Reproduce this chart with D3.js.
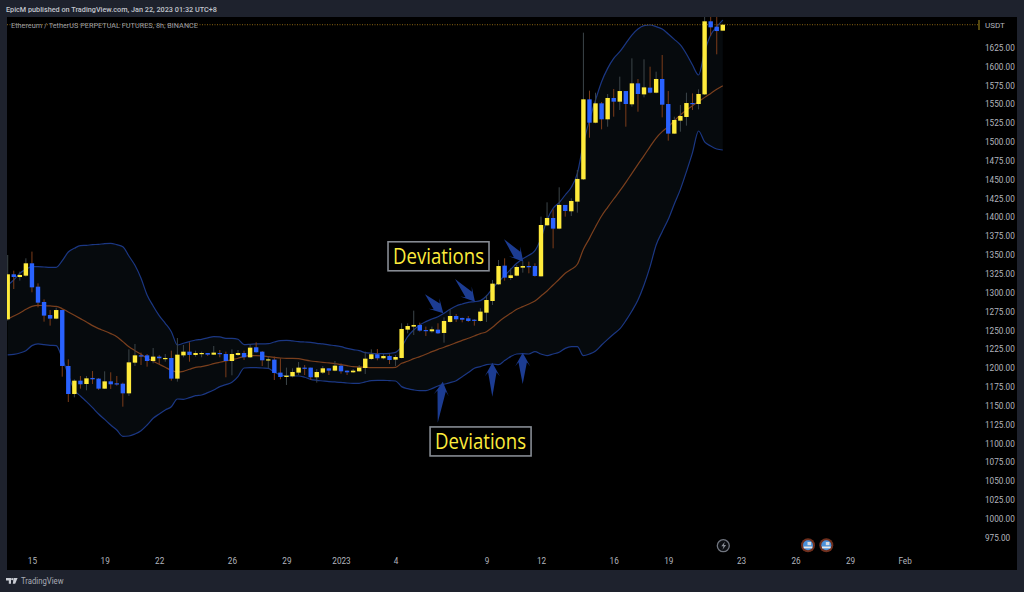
<!DOCTYPE html>
<html><head><meta charset="utf-8">
<script src="https://cdn.jsdelivr.net/npm/d3@7"></script>
<style>html,body{margin:0;padding:0;background:#1e222d;overflow:hidden}svg{display:block}text{font-family:Roboto,"Open Sans",sans-serif}</style>
</head><body><svg id="c" width="1024" height="592"></svg>
<script>
const openP=[1264.7,1324.4,1320.8,1322.6,1339,1308,1287.7,1270.4,1265.6,1277,
1202.8,1165.6,1183.3,1178.9,1186.9,1186,1172.7,1182.4,1179.8,1179.3,
1166.5,1207.2,1216.9,1216.9,1209.4,1215.2,1212.5,1213.4,1186,1216.9,
1221.8,1217.4,1219.2,1220,1217.8,1220,1218.7,1209.4,1217.4,1220,
1214.3,1227.6,1221.8,1210.3,1211.2,1194,1188.2,1189.1,1194,1200.6,
1200.6,1187.8,1194,1199.7,1196.6,1203.2,1196.6,1194.4,1195.7,1200.1,
1212.1,1218.3,1213,1216,1211.2,1213.4,1251,1255,1257.2,1250.5,
1248.8,1251,1246.6,1261.2,1269.1,1266.5,1266,1264.2,1262.5,1273.5,
1289,1311.1,1335.9,1319.5,1322.6,1333.2,1335.4,1335.4,1321.7,1389.4,
1399.1,1385,1416.4,1408,1420.8,1450.4,1556.5,1525.5,1551.2,1530,
1558.3,1553.4,1567.5,1549.9,1577.7,1563.1,1572,1565.3,1583.5,1550.3,
1511,1528.2,1533.1,1551.6,1550.3,1563.1,1660,1652.9,1647.6];
const closeP=[1324.4,1320.8,1323.5,1339,1307.1,1286.8,1269.6,1265.6,1277,1202.8,
1165.6,1183.3,1178.5,1186.4,1185.1,1172.7,1182.4,1178.5,1178.5,1166.5,
1207.6,1216.9,1216,1209.4,1215.2,1213,1213.4,1186,1217.8,1221.8,
1217.4,1220,1220,1217.8,1220.5,1218.7,1209.4,1218.7,1220,1214.3,
1227.1,1221,1210.3,1211.6,1193.5,1188.2,1190,1194.8,1200.6,1199.7,
1187.8,1194.8,1199.7,1196.6,1203.2,1195.7,1194.4,1196.6,1200.6,1212.5,
1218.3,1213,1216,1210.7,1214.7,1251.9,1255.8,1257.2,1249.7,1249.2,
1251.4,1246.1,1262.5,1269.1,1264.7,1264.2,1262.5,1263,1274.9,1290.3,
1312,1335.4,1320,1323.1,1334.1,1335.4,1333.7,1322.2,1389.8,1399.1,
1385,1416.4,1408.4,1421.7,1450.9,1556.5,1525.5,1551.2,1530,1558.3,
1553.4,1567.5,1550.3,1577.7,1563.6,1572.4,1565.3,1583.5,1549.4,1511,
1529.1,1534.4,1551.6,1550.3,1563.6,1660,1652,1647.1,1655.5];
const highP=[1350,1329.2,1327.9,1345.6,1354.5,1312.4,1291.2,1277,1280.2,1278,
1211.6,1185.1,1189.5,1189.5,1196.1,1186.9,1195.7,1194.4,1189.5,1180.7,
1224.9,1232,1220.5,1218.7,1226.7,1217.4,1218.7,1223.1,1239.9,1230.6,
1234.2,1223.1,1221.8,1220,1229.3,1224,1221.8,1224.9,1224,1223.1,
1231.5,1234.2,1222.7,1215.2,1215.2,1213,1200.6,1199.7,1208.1,1204.1,
1200.6,1198.8,1202.8,1199.7,1209.4,1206.3,1197,1198.8,1204.1,1221.8,
1224.9,1225.3,1218.7,1218.3,1217.4,1259.4,1259.4,1276.2,1260.3,1255,
1255,1259.4,1267.3,1278,1271.8,1266.9,1269.1,1264.7,1279.3,1297,
1316.9,1343.4,1345.6,1332.3,1336.8,1341.2,1341.2,1339,1400.9,1419.9,
1410.6,1439.8,1416.4,1425.2,1462.8,1644.9,1568,1565.3,1553,1563.6,
1570.2,1586.6,1567.5,1610.9,1583.5,1609.6,1599.8,1593.2,1615.3,1567.5,
1533.5,1549,1565.3,1564.4,1569.8,1680,1680,1680,1655.5];
const lowP=[1263,1304.9,1316,1321.3,1300.5,1280.6,1261.6,1256.3,1264.7,1188.6,
1155,1161.2,1172.7,1170.5,1178.9,1171,1172.3,1172.3,1176.7,1148.8,
1163,1202.8,1204.1,1201.9,1206.3,1205.4,1208.5,1183.3,1182,1214.3,
1208.5,1215.2,1214.3,1216.1,1217.4,1214.3,1187.8,1190.4,1216.1,1210.8,
1213.4,1220.5,1202.8,1199.7,1184.2,1185.1,1177.6,1187.8,1190.8,1190.8,
1184.2,1180.7,1192.2,1190.8,1195.7,1192.6,1190.8,1193.5,1195.3,1192.2,
1210.8,1210.3,1211.6,1205.4,1202.8,1213,1246.1,1243.9,1248.3,1242.6,
1247,1245.2,1233.7,1260.3,1261.2,1260.7,1261.2,1256.3,1261.6,1261.2,
1283.7,1310.2,1316,1316.9,1321.7,1326.6,1325.7,1321.3,1321.3,1388.5,
1358.9,1384.1,1400.9,1401.8,1406.2,1449.5,1505.6,1524.7,1516.7,1520.2,
1533.5,1542.3,1520.2,1546.8,1540.1,1559.1,1564.4,1564.4,1532.6,1501.7,
1510.5,1513.6,1521.6,1542.3,1543.2,1562.2,1640.5,1616.2,1647.6];
const upperBand=[1310.2,1316.9,1325.7,1331,1334.6,1334.6,1334.1,1333.7,1333.7,1342.5,1354,1358.9,1362.4,1362.9,1363.7,1364.2,1365.1,1365.5,1363.7,1361.1,1348.7,1336.3,1319.1,1297,1282.4,1269.6,1259.4,1248.3,1230.6,1232.9,1235.1,1237.3,
1238.2,1240,1241.7,1241.3,1239.5,1239.5,1238.2,1231.1,1231.5,1232,1232,1232.4,1234.6,1236.4,1236.8,1236,1235.1,1234.6,1234.2,1232.9,1232,1230.7,1229.8,1228.4,1226.2,1224.5,1223.1,1220.5,1219.6,1219.2,1219.2,1219.6,1220.9,
1228.4,1241.7,1250.5,1257.2,1261.6,1265.1,1268.2,1272.7,1278,1282.4,1285,1287.2,1288.1,1289.5,1295.6,1305.8,1314.7,1322.6,1331,1339,1345.2,1349.6,1355.8,1372.1,
1396.5,1411.9,1419.5,1429.6,1439.8,1458.4,
1498.1,1529,1555.6,1579.9,1597.6,1610.9,1619.7,1630.8,1641.8,1649.8,1654.2,1655.1,1652.9,1649.8,1643.2,1636.1,1628.6,1616.6,1602,1588.8,1619.7,1641.8,1652.9,1661.7];
const lowerBand=[1217.4,1218.3,1220,1223.1,1229.8,1232,1231.1,1230.2,1229.8,1213,1190.8,1171,1163,1155.5,1147.5,1139.1,1132,1124.5,1117.9,1109.5,1109.9,1112.6,1117,1124.5,1133.4,1139.1,1144.4,1148.8,1159,1158.6,1160.8,1163.4,
1164.3,1167.4,1171,1175.4,1178,1181.1,1188.6,1200.1,1200.6,1200.6,1200.1,1199.7,1194.4,1190.9,1189.5,1189.5,1189.5,1187.8,1185.1,1183.8,1182.9,1182,1181.6,1181.1,1180.2,1179.8,1179.8,1181.6,1183.3,1183.8,1183.8,1183.3,1182.9,
1175.4,1172.7,1171,1170.1,1170.1,1172.7,1176.3,1178.5,1180.7,1183.3,1188.6,1194,1199.7,1201.9,1204.6,1205.4,1204.6,1209.9,1215.2,1218.7,1219.1,1218.7,1221.8,1218.7,
1216.5,1218.7,1220.9,1226.2,1228.4,1228.4,
1216.5,1218.7,1222.7,1230.6,1238.1,1245.2,1251.9,1262.9,1275.7,1290.3,1310.2,1334.6,1363.3,1381,1397.3,1417.7,1437.1,1460.6,1485.8,1514.5,1500,1494.6,1490.6,1489.3];
const basisBand=[1264.7,1269.1,1273.1,1278,1281.9,1283.3,1282.8,1282.4,1281.9,1278.8,1274.4,1270,1265.6,1261.2,1256.3,1252.3,1249.2,1245.7,1241.7,1235.1,1228.4,1223.1,1218.3,1213,1209,1205,1201,1197,1194.8,1195.7,1198.4,1201,
1201.9,1203.7,1205.9,1207.7,1209.4,1211.2,1213,1215.6,1216.5,1216.5,1216.1,1215.2,1214.3,1213.4,1213,1213,1212.5,1210.8,1209.4,1208.5,1207.7,1206.8,1205.9,1204.6,1203.2,1201.9,1201.5,1201,1200.6,1200.6,1200.6,1200.6,1201,
1206.3,1209,1212.5,1215.2,1218.3,1221.8,1224.9,1227.6,1230.6,1233.7,1236.8,1239.5,1242.6,1245.7,1248.3,1254.1,1261.2,1267.3,1272.6,1278,1281.5,1285,1289,1295.6,1302.3,1310.2,1317.8,1325.7,1331,1337.7,
1357.5,1372.1,1387.6,1401.8,1413.3,1424.3,1435,1446.4,1458.4,1470.3,1481.8,1493.8,1505.2,
1513.6,1520.2,1528.2,1535.7,1542.3,1548.1,1553.4,1559.1,1564.4,1569.8,1574.6];
const timeTickIndex=[4,16,25,37,46,55,64,79,88,100,109,121,130,139,148];
const timeTickLabels=["15","19","22","26","29","2023","4","9","12","16","19","23","26","29","Feb"];
const priceTicks=d3.range(975,1626,25);
const arrowTips=[[71.8,1182],[79.97,1207.2],[84.98,1220.4],[71.88,1272.7],[77.11,1288.1],[85.08,1341.2]];
const arrowTails=[[70.96,1127.6],[79.97,1162.1],[84.98,1178.9],[68.86,1297.9],[73.81,1318.2],[81.9,1370.9]];
const noteLabels=["Deviations","Deviations"];
const noteAnchors=[[71.09,1348.3],[78.03,1102.7]];

const svg=d3.select("#c");
const paneL=7,paneR=1017,paneT=17,paneB=570;
const x=d3.scaleLinear().domain([0,148]).range([7.7,904.6]);
const y=d3.scaleLinear().domain([975,1625]).range([537.7,47.7]);
const idx=d3.range(openP.length);
svg.append("rect").attr("width",1024).attr("height",592).attr("fill","#1e222d");
svg.append("rect").attr("x",paneL).attr("y",paneT).attr("width",paneR-paneL).attr("height",paneB-paneT).attr("fill","#000");
svg.append("clipPath").attr("id","pane").append("rect").attr("x",paneL).attr("y",paneT).attr("width",paneR-paneL).attr("height",paneB-paneT);
const g=svg.append("g").attr("clip-path","url(#pane)");

g.append("path").attr("fill","#060a0d")
 .attr("d",d3.area().x(i=>x(i)).y0(i=>y(lowerBand[i])).y1(i=>y(upperBand[i]))(idx));
const line=a=>d3.line().x(i=>x(i)).y(i=>y(a[i])).curve(d3.curveMonotoneX)(idx);
g.append("path").attr("d",line(basisBand)).attr("fill","none").attr("stroke","#7a3f1d").attr("stroke-width",1.2);
g.append("path").attr("d",line(upperBand)).attr("fill","none").attr("stroke","#1b3783").attr("stroke-width",1.2);
g.append("path").attr("d",line(lowerBand)).attr("fill","none").attr("stroke","#1b3783").attr("stroke-width",1.2);

// price line
g.append("line").attr("x1",paneL).attr("x2",978).attr("y1",y(closeP[closeP.length-1])).attr("y2",y(closeP[closeP.length-1]))
 .attr("stroke","#8a6412").attr("stroke-width",1).attr("stroke-dasharray","1 1.5");
svg.append("line").attr("x1",979).attr("x2",979).attr("y1",20).attr("y2",30).attr("stroke","#a8901f").attr("stroke-width",1);

const up=i=>closeP[i]>=openP[i];
g.selectAll(".wick").data(idx).join("line").attr("class","wick")
 .attr("x1",i=>x(i)).attr("x2",i=>x(i)).attr("y1",i=>y(highP[i])).attr("y2",i=>y(lowP[i]))
 .attr("stroke",i=>up(i)?"#3c4549":"#7b3c1a").attr("stroke-width",1);
g.selectAll(".body").data(idx).join("rect").attr("class","body")
 .attr("x",i=>x(i)-2.2).attr("width",4.4)
 .attr("y",i=>y(Math.max(openP[i],closeP[i])))
 .attr("height",i=>Math.max(1.2,Math.abs(y(openP[i])-y(closeP[i]))))
 .attr("fill",i=>up(i)?"#ffeb3b":"#2962ff");

// arrows
const arrowPath=(tip,tail)=>{
  const tx=x(tip[0]),ty=y(tip[1]),bx=x(tail[0]),by=y(tail[1]);
  const L=Math.hypot(tx-bx,ty-by),ux=(tx-bx)/L,uy=(ty-by)/L,nx=-uy,ny=ux;
  const at=(back,side)=>[tx-ux*back+nx*side,ty-uy*back+ny*side];
  return d3.line()([[tx,ty],at(13.5,7.5),at(9.5,4.2),[bx,by],at(9.5,-4.2),at(13.5,-7.5)])+"Z";
};
g.selectAll(".arrow").data(arrowTips).join("path").attr("class","arrow")
 .attr("d",(t,i)=>arrowPath(t,arrowTails[i])).attr("fill","#1c3c92");

// notes
const notes=svg.selectAll(".note").data(noteLabels).join("g").attr("class","note")
 .attr("transform",(d,i)=>`translate(${x(noteAnchors[i][0])},${y(noteAnchors[i][1])})`);
notes.append("rect").attr("x",-50.5).attr("y",-14.5).attr("width",101).attr("height",29)
 .attr("fill","#000").attr("stroke","#868b93").attr("stroke-width",1.6);
notes.append("text").attr("text-anchor","middle").attr("dy","0.36em").attr("font-size",22)
 .attr("fill","#fdec3c").style("font-family","'Open Sans',sans-serif").attr("textLength",91).attr("lengthAdjust","spacingAndGlyphs").text(d=>d);

// axes
const yAxis=d3.axisRight(y).tickValues(priceTicks).tickSize(0).tickPadding(0).tickFormat(d3.format(".2f"));
const ya=svg.append("g").attr("transform","translate(985,0)").call(yAxis);
const xAxis=d3.axisBottom(x).tickValues(timeTickIndex).tickSize(0).tickPadding(0).tickFormat((d,i)=>timeTickLabels[i]);
const xa=svg.append("g").attr("transform","translate(0,558)").call(xAxis);
[ya,xa].forEach(a=>{a.select(".domain").remove();a.selectAll("text").attr("fill","#b2b5be").attr("font-size",8.2).style("font-family","Roboto,sans-serif");});

const t=(s,xp,yp,fs,col,w,len)=>{const e=svg.append("text").attr("x",xp).attr("y",yp).attr("font-size",fs).attr("fill",col).attr("font-weight",w||400).text(s);
  if(len)e.attr("textLength",len).attr("lengthAdjust","spacingAndGlyphs");return e;};
t("EpicM published on TradingView.com, Jan 22, 2023 01:32 UTC+8",6,11.6,7.8,"#c3c6ce",500,211);
t("Ethereum / TetherUS PERPETUAL FUTURES, 8h, BINANCE",11,27.6,7.6,"#9a9ea6",400,187);
t("USDT",985,27.8,8,"#b2b5be");
t("TradingView",21,584,8.2,"#a9acb5",400,42.5);

// TradingView logo
const logo=svg.append("g").attr("fill","#c9ccd3");
logo.append("path").attr("d","M6 578h5v5.8h-2.2v-3.4H6z");
logo.append("circle").attr("cx",12.2).attr("cy",579.2).attr("r",1.1);
logo.append("path").attr("d","M13.6 578h4l-2.4 5.8h-2.4z");

// event icons
const ev=svg.append("g");
ev.append("circle").attr("cx",723.3).attr("cy",545.7).attr("r",6).attr("fill","#0c0e12").attr("stroke","#70757f").attr("stroke-width",1.3);
ev.append("path").attr("d","M724.8 541.7l-3.5 4.6h2.2l-1 3.4 3.6-4.8h-2.2z").attr("fill","#8a8f98");
[808,826.3].forEach(cx=>{
  ev.append("circle").attr("cx",cx).attr("cy",545.3).attr("r",7).attr("fill","#6f2f1d");
  ev.append("circle").attr("cx",cx).attr("cy",545.3).attr("r",5).attr("fill","#4a90d9");
  ev.append("rect").attr("x",cx-4.3).attr("y",546.5).attr("width",8.6).attr("height",1.8).attr("fill","#e8e8e8");
  ev.append("rect").attr("x",cx-0.5).attr("y",542).attr("width",3.6).attr("height",3.2).attr("fill","#d8dbe2");
});
</script></body></html>
